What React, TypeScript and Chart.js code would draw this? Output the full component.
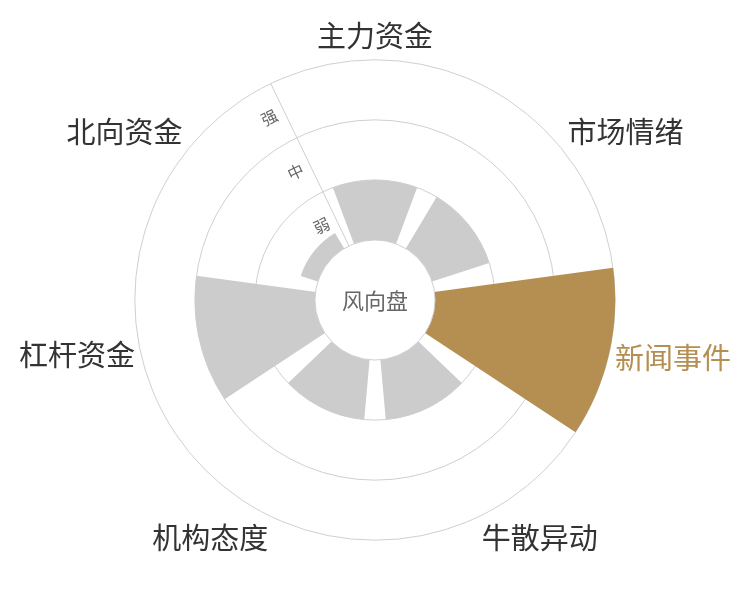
import { useEffect, useRef } from 'react';
import { Chart, registerables } from 'chart.js';

Chart.register(...registerables);

const CATEGORIES = ['主力资金', '市场情绪', '新闻事件', '牛散异动', '机构态度', '杠杆资金', '北向资金'];
const STRENGTH = [1, 1, 3, 1, 1, 2, 0.3];
const TICK_VALUES = [0.5, 1.5, 2.5];
const TICK_LABELS = ['弱', '中', '强'];
const HIGHLIGHT = '新闻事件';
const CENTER_TEXT = '风向盘';

const FONT = '"Noto Sans CJK SC", "Noto Sans", sans-serif';
const GOLD = '#b48f51';
const GREY = '#cccccc';
const LINE = '#cfcfcf';

// vertical nudge of each category label (line height factor), by index
const labelLineHeight = (i: number) => [1.2, 1.0, 0.2, 1.1, 1.1, 0, 1.0][i] ?? 1.2;

// bars take 80% of their sector, like a 20% category gap
const barGap = {
  id: 'barGap',
  afterDatasetUpdate(chart: any, args: any) {
    const meta = chart.getDatasetMeta(args.index);
    meta.data.forEach((arc: any) => {
      const cut = (arc.endAngle - arc.startAngle) * 0.1;
      arc.startAngle += cut;
      arc.endAngle -= cut;
    });
  },
};

const centerDisc = {
  id: 'centerDisc',
  afterDatasetsDraw(chart: any) {
    const scale = chart.scales.r;
    const ctx = chart.ctx;
    const radius = scale.getDistanceFromCenterForValue(0);
    ctx.save();
    ctx.beginPath();
    ctx.arc(scale.xCenter, scale.yCenter, radius, 0, Math.PI * 2);
    ctx.fillStyle = '#fff';
    ctx.fill();
    ctx.lineWidth = 1;
    ctx.strokeStyle = LINE;
    ctx.stroke();
    ctx.fillStyle = '#666';
    ctx.font = `22px ${FONT}`;
    ctx.textAlign = 'center';
    ctx.textBaseline = 'middle';
    ctx.fillText(CENTER_TEXT, scale.xCenter, scale.yCenter + 1);
    ctx.restore();
  },
};

export default function App() {
  const canvasRef = useRef<HTMLCanvasElement>(null);

  useEffect(() => {
    if (!canvasRef.current) return;
    const hi = CATEGORIES.indexOf(HIGHLIGHT);

    const chart = new Chart(canvasRef.current, {
      type: 'polarArea',
      data: {
        labels: CATEGORIES,
        datasets: [
          {
            data: STRENGTH,
            backgroundColor: CATEGORIES.map((c) => (c === HIGHLIGHT ? GOLD : GREY)),
            borderWidth: 0,
          },
        ],
      },
      options: {
        responsive: true,
        maintainAspectRatio: false,
        animation: false,
        events: [],
        layout: { padding: { top: 5, bottom: 33, left: 0, right: 0 } },
        plugins: {
          legend: { display: false },
          tooltip: { enabled: false },
        },
        scales: {
          r: {
            min: -1,
            max: 3,
            startAngle: -360 / (CATEGORIES.length * 2),
            grid: {
              circular: true,
              color: (ctx: any) =>
                Number.isInteger(ctx.tick.value) && ctx.tick.value > 0 ? LINE : 'transparent',
            },
            angleLines: {
              display: true,
              color: (ctx: any) => (ctx.index === 0 ? LINE : 'transparent'),
            },
            ticks: {
              stepSize: 0.5,
              showLabelBackdrop: false,
              color: '#666',
              font: { family: FONT, size: 16 },
              callback: (v: any) => {
                const i = TICK_VALUES.indexOf(Number(v));
                return i >= 0 ? TICK_LABELS[i] + '\u3000\u3000' : '';
              },
            },
            pointLabels: {
              display: true,
              centerPointLabels: true,
              padding: -4,
              color: (ctx: any) => (ctx.index === hi ? GOLD : '#333'),
              font: (ctx: any) => ({
                family: FONT,
                size: 29,
                lineHeight: labelLineHeight(ctx.index),
              }),
            },
          },
        },
      },
      plugins: [barGap, centerDisc],
    });

    return () => {
      chart.destroy();
    };
  }, []);

  return (
    <div style={{ position: 'fixed', left: 0, top: 0, width: 750, height: 600, background: '#fff' }}>
      <canvas ref={canvasRef} />
    </div>
  );
}
